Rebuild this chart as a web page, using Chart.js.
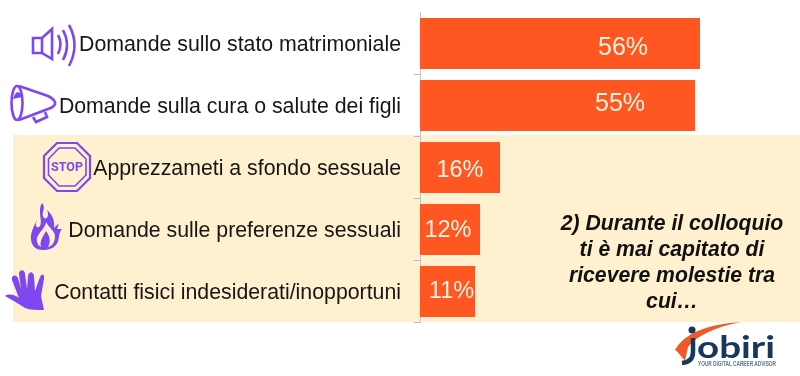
<!DOCTYPE html>
<html lang="it">
<head>
<meta charset="utf-8">
<title>Molestie durante il colloquio</title>
<script src="https://cdn.jsdelivr.net/npm/chart.js@4"></script>
<style>
    html, body { margin: 0; padding: 0; background: #fff; }
    #wrap { position: relative; width: 800px; height: 376px; overflow: hidden; font-family: "Liberation Sans", Arial, sans-serif; }
    #band { position: absolute; left: 13px; top: 135px; width: 787px; height: 187px; background: #fff0cf; }
    #chart { position: absolute; left: 0; top: 0; }
    #icons { position: absolute; left: 0; top: 0; }
    #note { position: absolute; left: 530px; top: 210px; width: 284px; text-align: center; font: italic bold 21.2px/26px "Liberation Sans", Arial, sans-serif; color: #111; }
</style>
</head>
<body>
<div id="wrap">
    <div id="band"></div>
    <canvas id="chart" width="800" height="376"></canvas>
    <div id="note">2) Durante il colloquio<br>ti è mai capitato di<br>ricevere molestie tra<br>cui…</div>

    <svg id="icons" width="800" height="376" viewBox="0 0 800 376">
        <!-- speaker -->
        <g fill="none" stroke="#7f47f0" stroke-width="2.600">
            <path d="M33 38H42L52 29V59L42 53H33Z M42 38V53"/>
            <path d="M58 35Q63 44 58 54"/>
            <path d="M63 30Q71 45 63 60"/>
            <path d="M69 25Q80 45 69 66"/>
        </g>
        <!-- megaphone -->
        <g fill="none" stroke="#7f47f0" stroke-width="2.600">
            <ellipse cx="17" cy="103" rx="5.500" ry="17"/>
            <path d="M19 86L48 96Q56 100 55 104Q54 107 48 109L19 120"/>
            <path d="M33 117L36 122L47 117L45 112"/>
        </g>
        <path d="M13 99Q17 86 22 97Z" fill="#7f47f0"/>
        <!-- stop sign -->
        <g fill="none" stroke="#7f47f0">
            <path stroke-width="2.200" d="M57 143H77L90 156V178L77 191H57L44 178V156Z"/>
            <path stroke-width="1.600" d="M59 148H75L86 159V175L75 186H59L48.500 175V159Z"/>
        </g>
        <text x="67" y="171" text-anchor="middle" font-family="Roboto, sans-serif" font-weight="700" font-size="12.500" fill="#7f47f0">STOP</text>
        <!-- flame -->
        <path fill="#7f47f0" fill-rule="evenodd" d="M42 203C47 208 40 213 44 218C48 220 49 214 47 210C53 215 55 222 54 228L59 223L57 229L62 229C58 233 60 240 56 245C53 249 47 250 43 250C37 250 32 247 31 240C30 233 34 226 37 220C34 227 38 229 40 226C43 221 37 211 42 203ZM46 222C46 227 39 232 37 238C36 243 39 246 41 247C39 241 44 235 46 231C50 236 51 242 48 247C53 246 55 241 55 236C55 231 49 228 46 222Z"/>
        <!-- hand -->
        <path fill="#7f47f0" d="M5 296C9 293 15 295 19 298L12 280C11 275 16 274 18 278L21 289L19 274C19 269 25 269 25 274L27 289L28 276C29 271 33 271 34 276L35 291L40 277C42 273 45 274 44 279L41 296L44 310C36 310 30 310 25 308C19 304 12 300 5 296Z"/>
        <!-- logo -->
        <path fill="#f0592a" d="M675 350C685 332 710 324 741 322C716 327 697 335 688 347L685 361C681 356 678 352 675 350Z"/>
        <circle cx="692" cy="330" r="3.500" fill="#17375e"/>
        <path fill="none" stroke="#17375e" stroke-width="4.500" d="M693 338V352Q693 362 682 363"/>
        <text x="697" y="358" font-family="Lato, sans-serif" font-weight="700" font-size="31" textLength="78" lengthAdjust="spacingAndGlyphs" fill="#17375e">obiri</text>
        <text x="698" y="366" font-family="'Liberation Sans', sans-serif" font-weight="700" font-size="6.500" textLength="78" lengthAdjust="spacingAndGlyphs" fill="#5b7690">YOUR DIGITAL CAREER ADVISOR</text>
    </svg>
</div>

<script>
    var categories = [
        'Domande sullo stato matrimoniale',
        'Domande sulla cura o salute dei figli',
        'Apprezzameti a sfondo sessuale',
        'Domande sulle preferenze sessuali',
        'Contatti fisici indesiderati/inopportuni'
    ];
    var percentages = [56, 55, 16, 12, 11];

    // value text sits off-centre in the reference, shift per bar (px)
    var labelShiftX = [63, 62.5, 0, -2, 4];
    var labelShiftY = [4.5, -1, 3.5, 1.5, 0];
    var labelSize = [25, 25, 23.5, 23.5, 23.5];

    var barValueLabels = {
        id: 'barValueLabels',
        afterDatasetsDraw: function (chart) {
            var ctx = chart.ctx;
            var bars = chart.getDatasetMeta(0).data;
            ctx.save();
            ctx.fillStyle = '#fff3e2';
            ctx.textAlign = 'center';
            ctx.textBaseline = 'middle';
            bars.forEach(function (bar, i) {
                var middle = (bar.x + bar.base) / 2;
                ctx.font = labelSize[i] + 'px "Liberation Sans", Arial, sans-serif';
                ctx.fillText(percentages[i] + '%', middle + labelShiftX[i], bar.y + labelShiftY[i]);
            });
            ctx.restore();
        }
    };

    var config = {
        type: 'bar',
        data: {
            labels: categories,
            datasets: [
                {
                    label: 'Risposte',
                    data: percentages,
                    backgroundColor: '#ff5722',
                    borderWidth: 0,
                    categoryPercentage: 1,
                    barPercentage: 0.825
                }
            ]
        },
        options: {
            indexAxis: 'y',
            responsive: false,
            animation: false,
            layout: {
                padding: {top: 12.5, bottom: 53.5, left: 0, right: 0}
            },
            plugins: {
                legend: {display: false},
                tooltip: {enabled: false}
            },
            scales: {
                x: {
                    display: false,
                    min: 0,
                    max: 76
                },
                y: {
                    afterFit: function (scale) {
                        scale.width = 420;
                        scale.paddingTop = 0;
                        scale.paddingBottom = 0;
                    },
                    border: {color: '#c4c4c4', width: 1},
                    grid: {
                        drawOnChartArea: false,
                        tickLength: 6,
                        tickColor: function (context) {
                            var last = categories.length;
                            return context.index === 0 || context.index === last ? 'transparent' : '#b9b9b9';
                        }
                    },
                    ticks: {
                        autoSkip: false,
                        padding: 13,
                        labelOffset: 1.5,
                        color: '#161616',
                        font: {family: '"Liberation Sans", Arial, sans-serif', size: 21.3}
                    }
                }
            }
        },
        plugins: [barValueLabels]
    };

    var ctx = document.getElementById('chart').getContext('2d');
    window.harassmentChart = new Chart(ctx, config);
</script>
</body>
</html>
